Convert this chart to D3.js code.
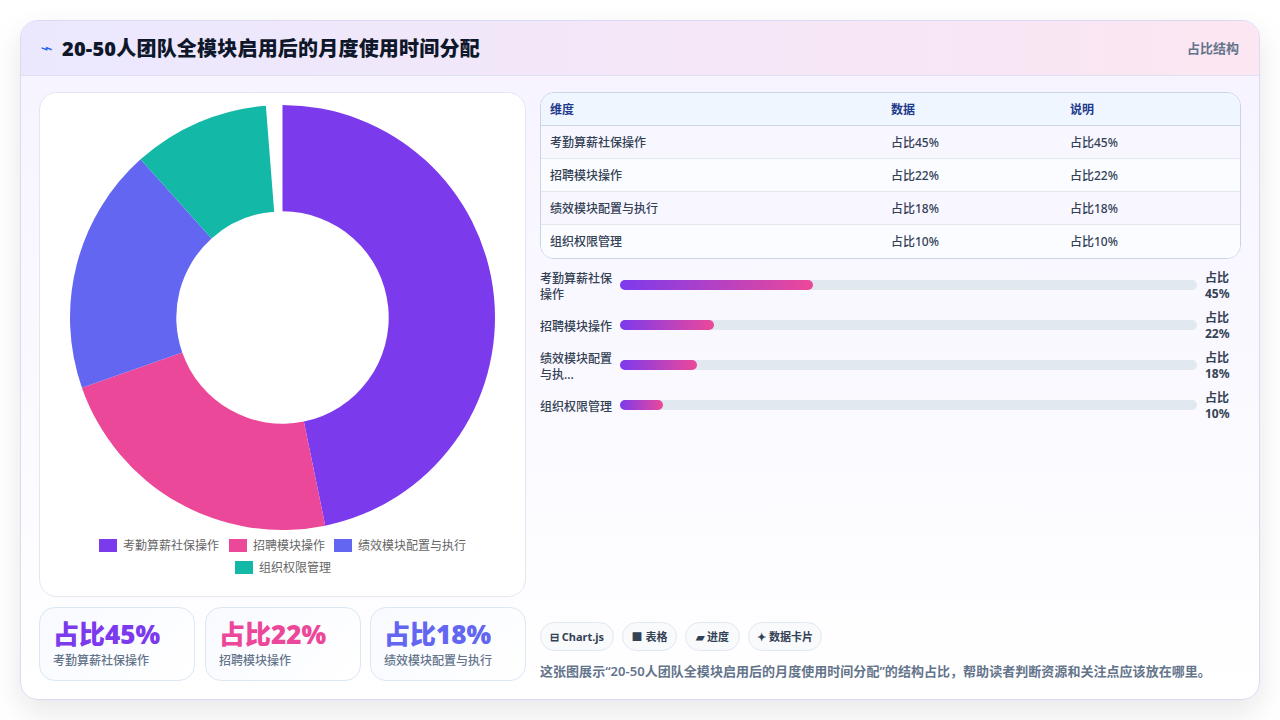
<!DOCTYPE html>
<html lang="zh"><head><meta charset="utf-8">
<script src="https://cdn.jsdelivr.net/npm/d3@7/dist/d3.min.js"></script>
<style>
*{box-sizing:border-box;margin:0;padding:0}
html,body{width:1280px;height:720px;overflow:hidden;background:#fff;font-family:"Noto Sans","Noto Sans CJK SC",sans-serif}
.abs{position:absolute}
#card{left:20px;top:20px;width:1240px;height:680px;border-radius:18px;border:1px solid #dcd9f5;background:linear-gradient(180deg,#f6f3ff 0,#fbfaff 62%,#fff 100%);box-shadow:0 12px 30px rgba(15,23,42,.10);overflow:hidden}
#head{left:0;top:0;width:1238px;height:55px;background:linear-gradient(90deg,#ebe8fe,#fce6f2);border-bottom:1px solid #e2e0f5}
#icon{left:21px;top:19px;font-size:14px;color:#2563eb;font-family:"DejaVu Sans";transform:scaleX(1.5)}
#title{left:41px;top:13px;font-size:20px;font-weight:900;letter-spacing:.2px;color:#0f172a;line-height:30px;white-space:nowrap}
#tag{right:20px;top:17px;font-size:13px;font-weight:600;color:#64748b;line-height:20px}
.panel{position:absolute;background:#fff;border:1px solid #e2e8f0;border-radius:18px}
.stat{position:absolute;top:607px;height:74px;border:1px solid #dbe7f5;border-radius:16px;background:linear-gradient(135deg,#f8faff,#fff)}
.stat .v{position:absolute;left:13px;top:8px;font-size:26px;font-weight:900;line-height:36px;white-space:nowrap}
.stat .l{position:absolute;left:13px;top:44px;font-size:12px;font-weight:500;color:#64748b;line-height:18px;white-space:nowrap}
#tbl{position:absolute;left:540px;top:92px;width:701px;height:167px;border:1px solid #cbd5e1;border-radius:14px;overflow:hidden;background:#fff}
.row{position:absolute;left:0;width:699px;height:33px;border-bottom:1px solid #e2e8f0;font-size:12px;font-weight:500;color:#334155;line-height:33px}
.row.h{background:#eff6ff;color:#1e3a8a;font-weight:700;border-bottom:1px solid #cbd5e1}
.row span{position:absolute;top:0;white-space:nowrap}
.blab{position:absolute;left:540px;width:76px;font-size:12px;font-weight:500;color:#334155;line-height:16px}
.bval{position:absolute;left:1205px;width:30px;font-size:12px;font-weight:700;color:#334155;line-height:16px}
.track{position:absolute;left:620px;width:577px;height:10px;border-radius:5px;background:#e2e8f0}
.fill{position:absolute;left:0;top:0;height:10px;border-radius:5px;background:linear-gradient(90deg,#7c3aed,#ec4899)}
.pill{position:absolute;top:622px;height:29px;border:1px solid #e2e8f0;border-radius:15px;background:#f8fafc;font-size:11px;font-weight:700;color:#334155;line-height:28px;text-align:center;white-space:nowrap}
#note{left:540px;top:662px;font-size:13px;font-weight:600;letter-spacing:.04px;color:#64748b;line-height:18px;white-space:nowrap}
svg{position:absolute;left:0;top:0}
</style></head><body>
<div id="root"></div>
<script>
const titleText = "20-50人团队全模块启用后的月度使用时间分配";
const kindText = "占比结构";
const categories = ["考勤算薪社保操作","招聘模块操作","绩效模块配置与执行","组织权限管理"];
const values = [45,22,18,10];
const gapValue = 1.2;
const colors = ["#7c3aed","#ec4899","#6366f1","#14b8a6"];
const barLabels = [["考勤算薪社保","操作"],["招聘模块操作"],["绩效模块配置","与执..."],["组织权限管理"]];
const tableHead = ["维度","数据","说明"];
const statCount = 3;
const pills = [["⊟ Chart.js",74],["■ 表格",55],["▰ 进度",55],["✦ 数据卡片",74]];
const noteText = "这张图展示“20-50人团队全模块启用后的月度使用时间分配”的结构占比，帮助读者判断资源和关注点应该放在哪里。";

const root = d3.select("#root");
const card = root.append("div").attr("id","card").attr("class","abs");
const head = card.append("div").attr("id","head").attr("class","abs");
head.append("div").attr("id","icon").attr("class","abs").text("⌁");
head.append("div").attr("id","title").attr("class","abs").text(titleText);
head.append("div").attr("id","tag").attr("class","abs").text(kindText);

root.append("div").attr("class","panel").style("left","39px").style("top","92px").style("width","487px").style("height","505px");

// donut
const svg = root.append("svg").attr("width",1280).attr("height",720);
const g = svg.append("g").attr("transform","translate(282.5,317.5)");
const pieData = d3.pie().sort(null)(values.concat([gapValue]));
const arc = d3.arc().innerRadius(106.2).outerRadius(212.5);
g.selectAll("path").data(pieData.slice(0,values.length)).join("path")
  .attr("d",arc).attr("fill",(d,i)=>colors[i]);

// legend
const legendRows = [[0,1,2],[3]];
const legendPos = [[99,229,334],[235]];
legendRows.forEach((r,ri)=>r.forEach((c,ci)=>{
  const x=legendPos[ri][ci], y=539+ri*22;
  svg.append("rect").attr("x",x).attr("y",y).attr("width",18).attr("height",13).attr("fill",colors[c]);
  svg.append("text").attr("x",x+24).attr("y",y+10.5).attr("font-size",12).attr("fill","#666").text(categories[c]);
}));

// stats
const statX=[[39,156],[205,156],[370,156]];
d3.range(statCount).forEach(i=>{
  const s=root.append("div").attr("class","stat").style("left",statX[i][0]+"px").style("width",statX[i][1]+"px");
  s.append("div").attr("class","v").style("color",colors[i]).text("占比"+values[i]+"%");
  s.append("div").attr("class","l").text(categories[i]);
});

// table
const t=root.append("div").attr("id","tbl");
const colX=[9,350,529];
const hr=t.append("div").attr("class","row h").style("top","0px");
tableHead.forEach((h,i)=>hr.append("span").style("left",colX[i]+"px").text(h));
categories.forEach((c,i)=>{
  const r=t.append("div").attr("class","row").style("top",(33+i*33)+"px").style("background",i%2?"#fafcff":"#f8f6ff");
  if(i==categories.length-1) r.style("border-bottom","none");
  [c,"占比"+values[i]+"%","占比"+values[i]+"%"].forEach((x,j)=>r.append("span").style("left",colX[j]+"px").text(x));
});

// bars
const xBar=d3.scaleLinear().domain([0,134.8]).range([0,577]);
categories.forEach((c,i)=>{
  const cy=285+i*40;
  const lab=root.append("div").attr("class","blab").style("top",(cy-8*barLabels[i].length+2)+"px");
  barLabels[i].forEach(l=>lab.append("div").text(l));
  root.append("div").attr("class","track").style("top",(cy-5)+"px")
    .append("div").attr("class","fill").style("width",xBar(values[i])+"px");
  const v=root.append("div").attr("class","bval").style("top",(cy-15)+"px");
  v.append("div").text("占比");
  v.append("div").text(values[i]+"%");
});

// pills
let px=540;
pills.forEach(p=>{
  root.append("div").attr("class","pill").style("left",px+"px").style("width",p[1]+"px").text(p[0]);
  px+=p[1]+8;
});
root.append("div").attr("id","note").attr("class","abs").text(noteText);
</script></body></html>
